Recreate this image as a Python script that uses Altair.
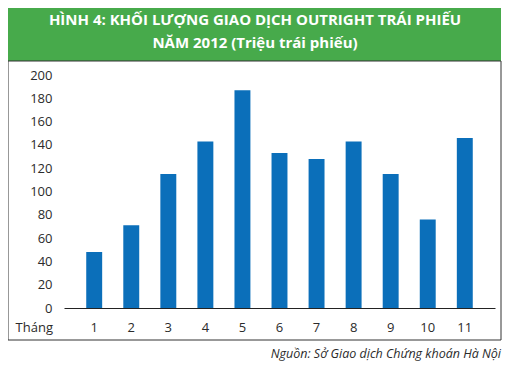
import altair as alt
import pandas as pd

months = ["1", "2", "3", "4", "5", "6", "7", "8", "9", "10", "11"]
volumes = [48, 71, 115, 143, 187, 133, 128, 143, 115, 76, 146]
y_ticks = [0, 20, 40, 60, 80, 100, 120, 140, 160, 180, 200]
title_lines = ["HÌNH 4: KHỐI LƯỢNG GIAO DỊCH OUTRIGHT TRÁI PHIẾU", "NĂM 2012 (Triệu trái phiếu)"]
x_axis_title = "Tháng"
source_note = "Nguồn: Sở Giao dịch Chứng khoán Hà Nội"

FONT = "Open Sans"
TXT = "#2b2b2b"
W, H = 431, 233

df = pd.DataFrame({"month": months, "volume": volumes})
one = alt.Data(values=[{"a": 1}])

header = alt.Chart(one).mark_rect(color="#47AA4B").encode(
    x=alt.value(-56), x2=alt.value(437), y=alt.value(-67), y2=alt.value(-14)
)
frame = alt.Chart(one).mark_rect(fill=None, stroke="#333333", strokeWidth=1).encode(
    x=alt.value(-56), x2=alt.value(437), y=alt.value(-14), y2=alt.value(265)
)

bars = alt.Chart(df).mark_bar(color="#0B6FBA").encode(
    x=alt.X("month:O", sort=months,
            scale=alt.Scale(paddingInner=0.57, paddingOuter=0.6),
            axis=alt.Axis(title=None, labelAngle=0, ticks=False, domainColor="#222222",
                          labelPadding=13, labelFontSize=13, labelColor=TXT, labelFont=FONT)),
    y=alt.Y("volume:Q", scale=alt.Scale(domain=[0, 200], nice=False),
            axis=alt.Axis(title=None, values=y_ticks, domain=False, ticks=False, grid=False,
                          labelPadding=12, labelFontSize=13, labelColor=TXT, labelFont=FONT)),
)

t1 = alt.Chart(one).mark_text(text=title_lines[0], font=FONT, fontSize=15, fontWeight="bold",
                              color="white", align="center", baseline="middle").encode(
    x=alt.value(191), y=alt.value(-55))
t2 = alt.Chart(one).mark_text(text=title_lines[1], font=FONT, fontSize=15, fontWeight="bold",
                              color="white", align="center", baseline="middle").encode(
    x=alt.value(191), y=alt.value(-32))
thang = alt.Chart(one).mark_text(text=x_axis_title, font=FONT, fontSize=13, color=TXT,
                                 align="right", baseline="middle").encode(
    x=alt.value(-11), y=alt.value(253))
src = alt.Chart(one).mark_text(text=source_note, font=FONT, fontSize=12.5, fontStyle="italic",
                               color=TXT, align="right", baseline="middle").encode(
    x=alt.value(437), y=alt.value(279))

chart = alt.layer(header, frame, bars, t1, t2, thang, src).properties(
    width=W, height=H,
    autosize=alt.AutoSizeParams(type="none"),
    padding={"left": 56, "top": 67, "right": 7, "bottom": 53},
    background="white",
).configure_view(stroke=None)

chart.save("out.html", embed_options={"renderer": "svg", "actions": False})
